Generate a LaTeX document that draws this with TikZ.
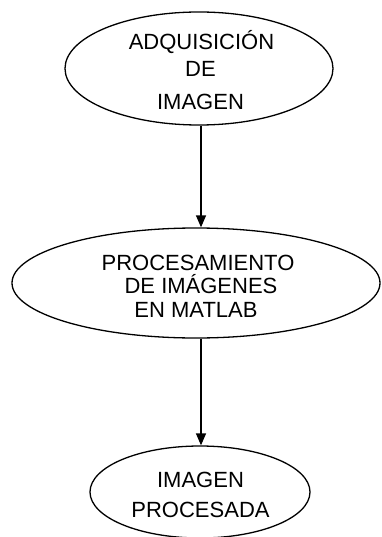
\documentclass[tikz,border=0pt]{standalone}
\usepackage{fontspec}
\setmainfont{Liberation Sans}
\usetikzlibrary{arrows.meta,shapes.geometric}
\begin{document}
\begin{tikzpicture}[x=1pt,y=-1pt,
  oval/.style={draw=black,line width=1.3pt,ellipse,inner sep=0pt},
  lbl/.style={anchor=base,inner sep=0pt,font=\fontsize{22}{24}\selectfont},
  arr/.style={line width=1.3pt,-{Triangle[length=12pt,width=10pt]}}]
\useasboundingbox (0,0) rectangle (381,537);
\node[oval,minimum width=268pt,minimum height=113pt] (e1) at (199,68.5) {};
\node[oval,minimum width=368pt,minimum height=110pt] (e2) at (196,283) {};
\node[oval,minimum width=220pt,minimum height=92pt] (e3) at (200,492) {};
\node[lbl] (t1a) at (201.5,50) {ADQUISICIÓN};
\node[lbl] (t1b) at (200.5,77) {DE};
\node[lbl] (t1c) at (200.5,110) {IMAGEN};
\node[lbl] (t2a) at (198,270) {PROCESAMIENTO};
\node[lbl] (t2b) at (201,293.5) {DE IMÁGENES};
\node[lbl] (t2c) at (196,317) {EN MATLAB};
\node[lbl] (t3a) at (200.5,487) {IMAGEN};
\node[lbl] (t3b) at (200.5,517) {PROCESADA};
\coordinate (ax) at (201,0);
\draw[arr] (e1.south -| ax) -- (e2.north -| ax);
\draw[arr] (e2.south -| ax) -- (e3.north -| ax);
\end{tikzpicture}
\end{document}
